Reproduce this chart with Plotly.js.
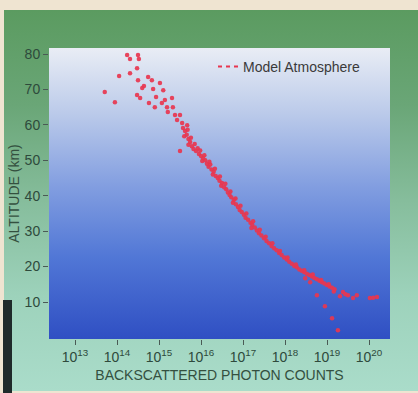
<!DOCTYPE html>
<html>
<head>
<meta charset="utf-8">
<script src="https://cdn.plot.ly/plotly-3.0.1.min.js"></script>
<style>
  html, body { margin: 0; padding: 0; }
  body { width: 418px; height: 393px; position: relative; overflow: hidden; background: #efe4d1; }
  #panel { position: absolute; left: 4px; top: 10px; width: 414px; height: 381px;
           background: linear-gradient(to bottom, #5b9b60 0%, #6aa677 25%, #86bd9c 50%, #9dd2bb 75%, #aadcca 100%); }
  #edge { position: absolute; left: 3px; top: 300px; width: 9px; height: 93px; background: #1f2a2a; }
  #chart { position: absolute; left: 0; top: 0; width: 418px; height: 393px; }
</style>
</head>
<body>
<div id="panel"></div>
<div id="edge"></div>
<div id="chart"></div>
<script>
// Backscattered photon counts versus altitude (km)
const counts = [
  // sparse returns above 60 km
  5.1e13, 8.9e13, 1.12e14, 1.74e14, 2.04e14, 2.04e14, 3.16e14, 3.31e14, 3.0e14, 3.16e14,
  3.0e14, 3.55e14, 3.98e14, 4.37e14, 5.5e14, 6.76e14, 5.75e14, 7.94e14, 7.24e14, 8.5e14,
  1.05e15, 1.26e15, 1.17e15, 1.38e15, 1.55e15, 2.04e15, 2.14e15, 1.62e15, 2.4e15, 3.16e15,
  2.69e15, 3.55e15, 4.68e15, 3.72e15, 3.16e15,
  // main profile
  4.17e15, 4.57e15, 3.98e15, 5.01e15, 5.5e15, 5.01e15, 6.03e15, 6.61e15, 7.59e15, 8.32e15,
  8.91e15, 1.0e16, 1.12e16, 1.07e16, 1.26e16, 1.38e16, 1.51e16, 1.66e16, 1.78e16, 2.0e16,
  1.91e16, 2.24e16, 2.51e16, 2.75e16, 3.16e16, 3.02e16, 3.55e16, 3.98e16, 4.37e16, 4.79e16,
  5.25e16, 6.03e16, 5.75e16, 6.76e16, 7.59e16, 8.32e16, 9.33e16, 1.05e17, 1.15e17, 1.32e17,
  1.51e17, 1.66e17, 1.58e17, 1.91e17, 2.14e17, 2.4e17, 2.75e17, 3.16e17, 3.63e17, 4.17e17,
  4.79e17, 5.5e17, 6.31e17, 7.24e17, 8.32e17, 9.55e17, 1.1e18, 1.26e18, 1.45e18, 1.66e18,
  1.91e18, 2.19e18, 2.51e18, 2.88e18, 3.31e18, 3.8e18, 4.37e18, 5.01e18, 5.75e18, 6.61e18,
  7.59e18, 8.71e18, 1.0e19, 1.15e19, 1.32e19, 1.51e19, 1.45e19,
  4.79e15, 5.75e15, 7.08e15, 9.55e15, 1.2e16, 1.58e16, 2.14e16, 2.82e16, 3.8e16, 5.01e16,
  6.61e16, 8.71e16, 1.2e17, 1.74e17, 2.51e17, 3.47e17, 5.01e17, 7.59e17, 1.15e18, 1.82e18,
  2.88e18, 4.57e18, 7.24e18, 1.1e19,
  // low-altitude returns
  2.4e19, 2.04e19, 3.16e19, 5.13e19, 4.17e19, 2.75e19, 1.05e20, 1.55e20, 1.26e20,
  3.02e18, 3.98e18, 5.75e18, 8.91e18, 1.32e19, 1.82e19
];
const altitude = [
  69.3, 66.4, 73.8, 79.7, 78.6, 74.6, 79.7, 78.6, 76.0, 72.6,
  68.4, 67.6, 70.4, 71.0, 73.5, 72.6, 66.2, 65.0, 70.1, 67.9,
  71.8, 69.8, 66.2, 67.0, 65.0, 67.6, 65.0, 63.6, 62.8, 62.8,
  61.4, 60.5, 59.9, 59.1, 52.6,
  58.3, 57.2, 56.8, 56.0, 55.2, 54.4, 54.0, 53.2, 52.6, 53.4,
  51.8, 51.2, 50.6, 49.8, 50.0, 49.0, 48.2, 48.8, 47.4, 46.8,
  46.0, 45.6, 45.0, 44.2, 43.6, 42.8, 42.4, 41.8, 40.9, 40.2,
  39.6, 38.8, 38.0, 37.6, 36.8, 36.0, 35.4, 34.6, 33.8, 33.2,
  32.4, 31.8, 30.9, 31.0, 30.2, 29.4, 28.8, 28.0, 27.2, 26.6,
  25.8, 25.2, 24.6, 23.8, 23.3, 22.6, 22.0, 21.4, 20.8, 20.2,
  19.8, 19.2, 18.8, 18.4, 18.0, 17.6, 17.2, 16.8, 16.4, 16.0,
  15.6, 15.2, 14.8, 14.4, 14.0, 13.6, 13.0,
  58.6, 56.4, 54.6, 52.8, 51.4, 49.6, 47.6, 45.4, 43.4, 41.2,
  39.2, 37.2, 35.0, 32.8, 30.4, 28.4, 26.6, 24.4, 22.6, 20.6,
  19.0, 17.8, 16.2, 15.0,
  12.8, 11.6, 11.9, 11.9, 11.1, 12.2, 11.1, 11.4, 11.2,
  16.7, 15.6, 11.9, 8.8, 5.4, 2.0
];
const seriesName = 'Model Atmosphere';
const altitudeTicks = [10, 20, 30, 40, 50, 60, 70, 80];
const countTicks = [1e13, 1e14, 1e15, 1e16, 1e17, 1e18, 1e19, 1e20];
const countTickText = ['10<sup>13</sup>', '10<sup>14</sup>', '10<sup>15</sup>', '10<sup>16</sup>',
                       '10<sup>17</sup>', '10<sup>18</sup>', '10<sup>19</sup>', '10<sup>20</sup>'];

const red = '#e8364f';
const labelFont = 'Liberation Sans, Arial, Helvetica, sans-serif';
const inkColor = '#2e4a3c';

// vertical sky gradient behind the data
const skySvg = '<svg xmlns="http://www.w3.org/2000/svg" width="10" height="100" preserveAspectRatio="none">' +
  '<defs><linearGradient id="g" x1="0" y1="0" x2="0" y2="1">' +
  '<stop offset="0" stop-color="#e9edf5"/>' +
  '<stop offset="0.22" stop-color="#bccbea"/>' +
  '<stop offset="0.48" stop-color="#819de0"/>' +
  '<stop offset="0.72" stop-color="#5177d6"/>' +
  '<stop offset="1" stop-color="#2f4fc3"/>' +
  '</linearGradient></defs><rect width="10" height="100" fill="url(#g)"/></svg>';

const traces = [
  {
    x: counts, y: altitude, type: 'scatter', mode: 'markers',
    marker: { color: red, size: 4.5, opacity: 0.92, line: { width: 0 } },
    showlegend: false, hoverinfo: 'x+y'
  },
  {
    x: [null], y: [null], type: 'scatter', mode: 'lines', name: seriesName,
    line: { color: red, width: 2, dash: '0px,10px,4px,4px,4px,4px,4px,4px' },
    showlegend: true
  }
];

const layout = {
  width: 418, height: 393,
  margin: { l: 49, r: 28, t: 48, b: 54, pad: 0 },
  paper_bgcolor: 'rgba(0,0,0,0)',
  plot_bgcolor: 'rgba(0,0,0,0)',
  font: { family: labelFont, size: 14, color: inkColor },
  images: [{
    source: 'data:image/svg+xml;charset=utf-8,' + encodeURIComponent(skySvg),
    xref: 'paper', yref: 'paper', x: 0, y: 1, sizex: 1, sizey: 1,
    xanchor: 'left', yanchor: 'top', sizing: 'stretch', layer: 'below'
  }],
  xaxis: {
    type: 'log', range: [12.38, 20.5], automargin: true,
    tickvals: countTicks, ticktext: countTickText, tickangle: 0,
    ticks: 'outside', ticklen: 5, tickwidth: 1, tickcolor: '#4a5a55',
    showgrid: false, zeroline: false, showline: false,
    tickfont: { family: labelFont, size: 14, color: inkColor },
    title: { text: 'BACKSCATTERED PHOTON COUNTS', standoff: 6,
             font: { family: labelFont, size: 14, color: '#34503f' } }
  },
  yaxis: {
    range: [-0.44, 81.7], automargin: true,
    tickvals: altitudeTicks,
    ticks: 'outside', ticklen: 5, tickwidth: 1, tickcolor: '#4a5a55',
    showgrid: false, zeroline: false, showline: false,
    tickfont: { family: labelFont, size: 14, color: inkColor },
    title: { text: 'ALTITUDE (km)', standoff: 1,
             font: { family: labelFont, size: 14, color: '#34503f' } }
  },
  legend: {
    x: (203 - 49) / 341, y: 0.935, xanchor: 'left', yanchor: 'middle',
    bgcolor: 'rgba(0,0,0,0)', borderwidth: 0,
    font: { family: labelFont, size: 14, color: '#3a3a3a' },
    itemwidth: 30
  }
};

Plotly.newPlot('chart', traces, layout, { displayModeBar: false, staticPlot: true });
</script>
</body>
</html>
